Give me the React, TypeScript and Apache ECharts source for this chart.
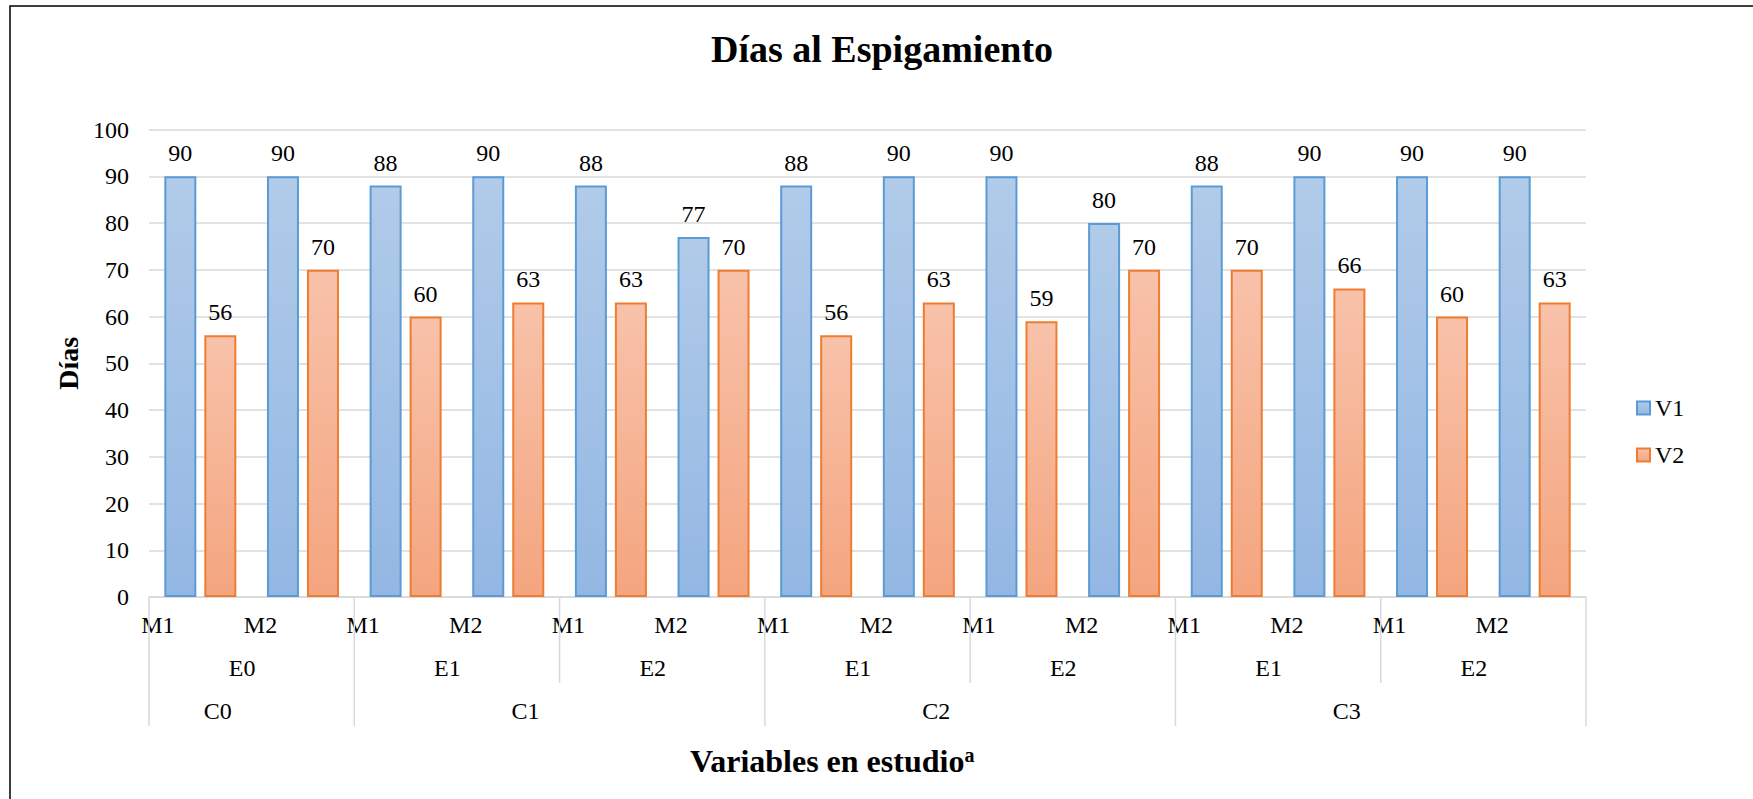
import { useEffect, useRef } from 'react';
import * as echarts from 'echarts';

// Lowest level of the category axis (one entry per bar pair)
const mLabels = ['M1', 'M2', 'M1', 'M2', 'M1', 'M2', 'M1', 'M2', 'M1', 'M2', 'M1', 'M2', 'M1', 'M2'];
// Middle level: each E group covers two M categories
const eLabels = ['E0', 'E1', 'E2', 'E1', 'E2', 'E1', 'E2'];
const eSpan = 2;
// Top level: C groups and how many M categories each covers
const cLabels = ['C0', 'C1', 'C2', 'C3'];
const cSpans = [2, 4, 4, 4];

const seriesNames = ['V1', 'V2'];
const v1Values = [90, 90, 88, 90, 88, 77, 88, 90, 90, 80, 88, 90, 90, 90];
const v2Values = [56, 70, 60, 63, 63, 70, 56, 63, 59, 70, 70, 66, 60, 63];

const yMin = 0;
const yMax = 100;
const yStep = 10;

const FONT = "'Liberation Serif', 'Times New Roman', Times, serif";
const GRID_GRAY = '#d9d9d9';

function gradient(top: string, bottom: string) {
  return new echarts.graphic.LinearGradient(0, 0, 0, 1, [
    { offset: 0, color: top },
    { offset: 1, color: bottom },
  ]);
}

function buildOption(): echarts.EChartsOption {
  const total = mLabels.length;

  // label positions on the boundary scale (0..total)
  const eCenters = new Map<number, string>();
  eLabels.forEach((name, i) => eCenters.set(i * eSpan + eSpan / 2, name));

  const cCenters = new Map<number, string>();
  const longBounds: number[] = [0];
  let acc = 0;
  cSpans.forEach((span, i) => {
    cCenters.set(acc + span / 2, cLabels[i]);
    acc += span;
    longBounds.push(acc);
  });

  const separators: number[][] = [];
  for (let b = 0; b <= total; b += eSpan) {
    separators.push([b, longBounds.includes(b) ? 1 : 0]);
  }

  const axisText = { fontFamily: FONT, fontSize: 24, color: '#000' };

  const barLabel = {
    show: true,
    position: 'top' as const,
    distance: 11,
    fontFamily: FONT,
    fontSize: 24,
    color: '#000',
  };

  return {
    animation: false,
    backgroundColor: '#fff',
    title: [
      {
        text: 'Días al Espigamiento',
        left: 711,
        top: 30,
        padding: 0,
        textStyle: { fontFamily: FONT, fontSize: 38, fontWeight: 'bold', color: '#000' },
      },
      {
        text: '{t|Variables en estudio}{s|a}',
        left: 690,
        top: 745,
        padding: 0,
        textStyle: {
          rich: {
            t: { fontFamily: FONT, fontSize: 32, fontWeight: 'bold', color: '#000', lineHeight: 32 },
            s: { fontFamily: FONT, fontSize: 20, fontWeight: 'bold', color: '#000', verticalAlign: 'top', lineHeight: 32 },
          },
        },
      },
    ],
    legend: {
      data: seriesNames,
      orient: 'vertical',
      left: 1636,
      top: 396,
      padding: 0,
      itemWidth: 13,
      itemHeight: 13,
      itemGap: 23,
      icon: 'rect',
      textStyle: { fontFamily: FONT, fontSize: 24, color: '#000' },
    },
    grid: { left: 149, right: 167, top: 129.5, bottom: 202 },
    xAxis: [
      {
        type: 'category',
        data: mLabels,
        axisLine: { lineStyle: { color: GRID_GRAY, width: 1.5 } },
        axisTick: { show: false },
        axisLabel: {
          ...axisText,
          interval: 0,
          margin: 16,
          align: 'center',
          padding: [0, 85, 0, 0],
        },
      },
      {
        // E level labels, on a boundary scale shared with the separators
        type: 'value',
        position: 'bottom',
        offset: 43,
        min: 0,
        max: total,
        interval: 1,
        axisLine: { show: false },
        axisTick: { show: false },
        splitLine: { show: false },
        axisLabel: {
          ...axisText,
          margin: 16,
          align: 'center',
          padding: [0, 19, 0, 0],
          formatter: (v: number) => eCenters.get(v) ?? '',
        },
      },
      {
        // C level labels
        type: 'value',
        position: 'bottom',
        offset: 86,
        min: 0,
        max: total,
        interval: 1,
        axisLine: { show: false },
        axisTick: { show: false },
        splitLine: { show: false },
        axisLabel: {
          ...axisText,
          margin: 16,
          align: 'center',
          padding: [0, 68, 0, 0],
          formatter: (v: number) => cCenters.get(v) ?? '',
        },
      },
    ],
    yAxis: {
      type: 'value',
      min: yMin,
      max: yMax,
      interval: yStep,
      name: 'Días',
      nameLocation: 'middle',
      nameRotate: 90,
      nameGap: 66,
      nameTextStyle: { fontFamily: FONT, fontSize: 28, fontWeight: 'bold', color: '#000' },
      axisLine: { show: false },
      axisTick: { show: false },
      axisLabel: { ...axisText, margin: 20 },
      splitLine: { lineStyle: { color: GRID_GRAY, width: 1.5 } },
    },
    series: [
      {
        name: seriesNames[0],
        type: 'bar',
        data: v1Values,
        barWidth: 32,
        barGap: '25%',
        itemStyle: {
          color: gradient('#b1cbe9', '#93b7e3'),
          borderColor: '#5b9bd5',
          borderWidth: 2,
        },
        label: barLabel,
      },
      {
        name: seriesNames[1],
        type: 'bar',
        data: v2Values,
        barWidth: 32,
        itemStyle: {
          color: gradient('#f8c2aa', '#f4a57f'),
          borderColor: '#ed7d31',
          borderWidth: 2,
        },
        label: barLabel,
      },
      {
        // group separators below the category axis
        type: 'custom',
        xAxisIndex: 1,
        yAxisIndex: 0,
        silent: true,
        clip: false,
        data: separators,
        renderItem: (_params: any, api: any) => {
          const pt = api.coord([api.value(0), 0]);
          const len = api.value(1) ? 129 : 86;
          return {
            type: 'line',
            shape: { x1: pt[0], y1: pt[1], x2: pt[0], y2: pt[1] + len },
            style: { stroke: GRID_GRAY, lineWidth: 1.5 },
          };
        },
      },
    ],
    graphic: [
      {
        type: 'polyline',
        silent: true,
        shape: { points: [[10, 799], [10, 6], [1753, 6]] },
        style: { stroke: '#000', lineWidth: 1.5, fill: 'none' },
      },
    ],
  } as echarts.EChartsOption;
}

export default function App() {
  const ref = useRef<HTMLDivElement>(null);

  useEffect(() => {
    if (!ref.current) return;
    const chart = echarts.init(ref.current, null, { renderer: 'svg' });
    chart.setOption(buildOption());
    return () => chart.dispose();
  }, []);

  return (
    <div
      ref={ref}
      style={{ position: 'fixed', left: 0, top: 0, width: 1753, height: 799, background: '#fff' }}
    />
  );
}
